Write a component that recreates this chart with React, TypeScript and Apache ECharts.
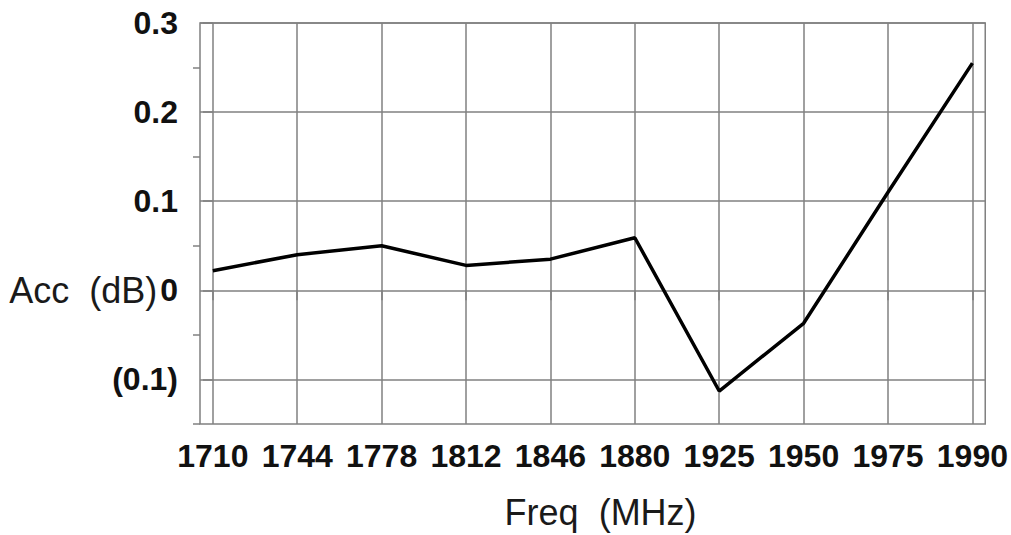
import React, { useEffect, useRef } from "react";
import * as echarts from "echarts";

const categories = ["1710", "1744", "1778", "1812", "1846", "1880", "1925", "1950", "1975", "1990"];
const accValues = [0.022, 0.04, 0.05, 0.028, 0.035, 0.059, -0.113, -0.037, 0.11, 0.255];
const yMajorTicks = [-0.1, 0, 0.1, 0.2, 0.3];
const yMinorTicks = [-0.15, -0.05, 0.05, 0.15, 0.25];
const xName = "Freq  (MHz)";
const yName = "Acc  (dB)";

export default function App() {
  const ref = useRef<HTMLDivElement>(null);
  useEffect(() => {
    if (!ref.current) return;
    const chart = echarts.init(ref.current, null, { renderer: "svg" });
    const idx = categories.map((_, i) => i);
    const gridColor = "#808080";
    const fmtY = (v: number) => {
      const r = Math.round(v * 10) / 10;
      if (Math.abs(r) < 1e-9) return `{n|${yName}}{b|0}`;
      if (r < 0) return `{b|(${Math.abs(r).toFixed(1)})}`;
      return `{b|${r.toFixed(1)}}`;
    };
    chart.setOption({
      animation: false,
      backgroundColor: "#ffffff",
      grid: {
        left: 200,
        right: 24,
        top: 23,
        bottom: 103,
        show: true,
        borderColor: gridColor,
        borderWidth: 1.5,
        containLabel: false,
      },
      xAxis: {
        type: "value",
        min: -0.152,
        max: categories.length - 1 + 0.152,
        name: xName,
        nameLocation: "middle",
        nameGap: 70,
        nameTextStyle: {
          fontFamily: "Liberation Sans",
          fontSize: 36,
          color: "#1a1a1a",
          padding: [0, 0, 0, 16],
        },
        axisLine: { show: false },
        axisTick: {
          show: true,
          customValues: idx,
          length: 10,
          lineStyle: { color: gridColor, width: 1.5 },
        },
        axisLabel: {
          customValues: idx,
          margin: 16,
          formatter: (v: number) => categories[Math.round(v)] ?? "",
          fontFamily: "Liberation Sans",
          fontWeight: "bold",
          fontSize: 32,
          color: "#111",
        },
        splitLine: { show: true, lineStyle: { color: gridColor, width: 1.5 } },
      },
      yAxis: [
        {
          type: "value",
          min: -0.15,
          max: 0.3,
          axisLine: { show: false },
          axisTick: {
            show: true,
            customValues: yMajorTicks,
            length: 10,
            lineStyle: { color: gridColor, width: 1.5 },
          },
          axisLabel: {
            customValues: yMajorTicks,
            margin: 22,
            formatter: fmtY,
            rich: {
              b: {
                fontFamily: "Liberation Sans",
                fontWeight: "bold",
                fontSize: 32,
                color: "#111",
              },
              n: {
                fontFamily: "Liberation Sans",
                fontSize: 36,
                color: "#1a1a1a",
                padding: [0, 3, 0, 0],
              },
            },
          },
          splitLine: { show: true, lineStyle: { color: gridColor, width: 1.5 } },
        },
        {
          type: "value",
          min: -0.15,
          max: 0.3,
          position: "left",
          axisLine: { show: false },
          axisTick: {
            show: true,
            customValues: yMinorTicks,
            length: 7,
            lineStyle: { color: gridColor, width: 1.5 },
          },
          axisLabel: { show: false },
          splitLine: { show: false },
        },
      ],
      series: [
        {
          type: "line",
          yAxisIndex: 0,
          data: accValues.map((v, i) => [i, v]),
          symbol: "none",
          lineStyle: { color: "#000", width: 3.5 },
        },
      ],
    });
    return () => chart.dispose();
  }, []);
  return (
    <div
      ref={ref}
      style={{ position: "fixed", left: 0, top: 0, width: 1011, height: 535 }}
    />
  );
}
